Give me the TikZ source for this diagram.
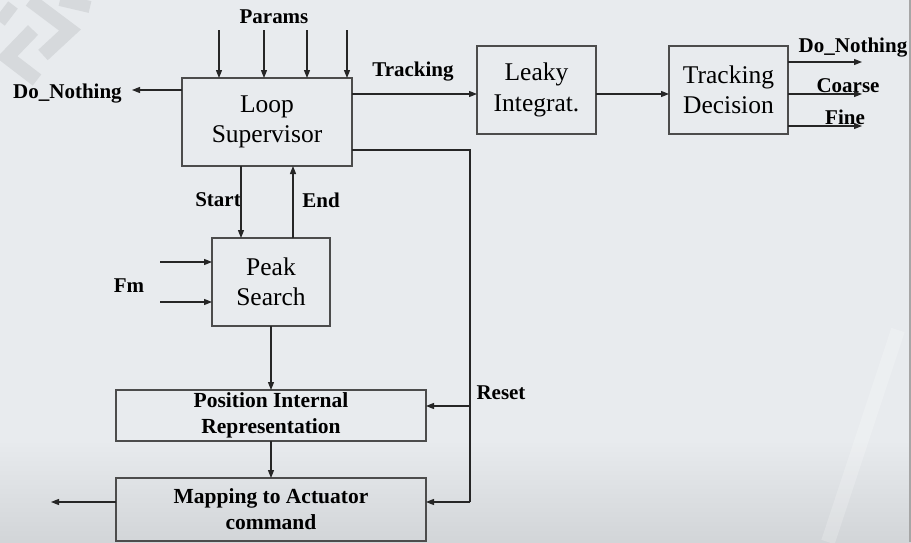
\documentclass[tikz,border=0pt]{standalone}
\usepackage{fontspec}
\setmainfont{Liberation Serif}
\usetikzlibrary{arrows.meta,positioning}
\definecolor{bgc}{HTML}{E8EBEE}
\definecolor{bgdark}{HTML}{D2D5D8}
\definecolor{wm}{HTML}{D6D9DC}
\tikzset{
  blk/.style={draw=black!70, line width=1.3pt, inner sep=0pt, outer sep=0pt, align=center,
              font=\fontsize{25.5}{30.5}\selectfont},
  bblk/.style={blk, font=\fontsize{21.5}{26}\selectfont\bfseries},
  lbl/.style={font=\fontsize{21}{24}\selectfont\bfseries, inner sep=0pt},
  conn/.style={line width=1.2pt, black!85, -{Triangle[length=8pt,width=6pt]}},
  wire/.style={line width=1.2pt, black!85},
}
\begin{document}
\begin{tikzpicture}[x=1pt,y=-1pt]
\useasboundingbox (0,0) rectangle (911,542);
% background
\fill[bgc] (0,0) rectangle (911,542);
\shade[top color=bgc, bottom color=bgdark] (0,440) rectangle (911,542);
\draw[wm, line width=14pt, line join=miter] (30,0) -- (70,30) -- (43,55);
\draw[wm, line width=14pt, line join=miter] (33,30) -- (7,57) -- (37,80);
\draw[wm, line width=12pt] (60,0) -- (90,7);
\draw[wm, line width=12pt] (13,5) -- (0,22);
\draw[white, opacity=0.2, line width=14pt] (898,330) -- (828,542);
\draw[gray!70, line width=2pt] (910,0) -- (910,542);

% blocks
\node[blk, minimum width=170pt, minimum height=88pt] (LS) at (267,122) {Loop\\Supervisor};
\node[blk, minimum width=119pt, minimum height=88pt] (LI) at (536.5,90) {Leaky\\Integrat.};
\node[blk, minimum width=119pt, minimum height=88pt] (TD) at (728.5,90) {Tracking\\Decision};
\node[blk, minimum width=118pt, minimum height=88pt] (PS) at (271,282) {Peak\\Search};
\node[bblk, minimum width=310pt, minimum height=51pt] (PIR) at (271,415.5) {Position Internal\\Representation};
\node[bblk, minimum width=310pt, minimum height=63pt] (MAP) at (271,509.5) {Mapping to Actuator\\command};

% labels
\node[lbl] (params) at (274,17) {Params};
\node[lbl] (dnl) at (67.5,94) {Do\_Nothing};
\node[lbl] (trk) at (413,72) {Tracking};
\node[lbl] (start) at (218,200) {Start};
\node[lbl] (endl) at (321,200) {End};
\node[lbl] (fm) at (129,286) {Fm};
\node[lbl] (reset) at (501,393) {Reset};
\node[lbl] (dnr) at (853,48) {Do\_Nothing};
\node[lbl] (coarse) at (848,86) {Coarse};
\node[lbl] (fine) at (845,117) {Fine};

% coordinates
\coordinate (p1) at (219,30);
\coordinate (p2) at (264,30);
\coordinate (p3) at (307,30);
\coordinate (p4) at (347,30);
\coordinate (dn) at (132,90);
\coordinate (ty) at (0,94);
\coordinate (rs) at (470,150);
\coordinate (st) at (241,0);
\coordinate (en) at (293,0);
\coordinate (f1) at (160,262);
\coordinate (f2) at (160,302);
\coordinate (ry1) at (0,406);
\coordinate (ry2) at (0,502);
\coordinate (out) at (51,502);
\coordinate (o1) at (862,62);
\coordinate (o2) at (862,94);
\coordinate (o3) at (862,126);

% connectors
\foreach \p in {p1,p2,p3,p4} \draw[conn] (\p) -- (\p |- LS.north);
\draw[conn] (dn -| LS.west) -- (dn);
\draw[conn] (ty -| LS.east) -- (ty -| LI.west);
\draw[conn] (ty -| LI.east) -- (ty -| TD.west);
\foreach \o in {o1,o2,o3} \draw[conn] (\o -| TD.east) -- (\o);
\draw[conn] (st |- LS.south) -- (st |- PS.north);
\draw[conn] (en |- PS.north) -- (en |- LS.south);
\draw[conn] (f1) -- (f1 -| PS.west);
\draw[conn] (f2) -- (f2 -| PS.west);
\draw[conn] (PS.south) -- (PIR.north);
\draw[conn] (PIR.south) -- (MAP.north);
\draw[wire] (rs -| LS.east) -- (rs) -- (rs |- ry2);
\draw[conn] (rs |- ry1) -- (ry1 -| PIR.east);
\draw[conn] (rs |- ry2) -- (ry2 -| MAP.east);
\draw[conn] (ry2 -| MAP.west) -- (out);
\end{tikzpicture}
\end{document}
